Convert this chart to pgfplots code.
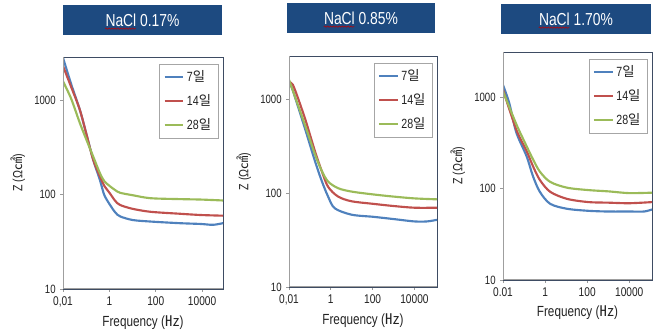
\documentclass[border=0pt]{standalone}
\usepackage{pgfplots}
\pgfplotsset{compat=1.18}
\usepackage{fontspec}
\setmainfont{Liberation Sans}[FakeStretch=0.8]
\newfontfamily\kr{Noto Sans CJK KR}
\usetikzlibrary{decorations.pathmorphing}
\definecolor{tblue}{HTML}{1D4A80}
\definecolor{cblue}{HTML}{4F81BD}
\definecolor{cred}{HTML}{C0504D}
\definecolor{cgreen}{HTML}{9BBB59}
\definecolor{frame}{HTML}{3E4C63}
\definecolor{txt}{HTML}{222222}
\pgfplotsset{
  every axis/.append style={
    scale only axis,
    axis line style={draw=frame, line width=0.6pt},
    xtick={0.01,1,100,10000},
    ytick={10,100,1000},
    yticklabels={10,100,1000},
    minor tick length=0pt,
    major tick length=2pt,
    tick align=outside,
    xtick pos=bottom, ytick pos=left,
    tick style={draw=gray!80, line width=0.5pt},
    xticklabel style={font=\fontsize{9.5}{11}\selectfont, text=txt},
    yticklabel style={font=\fontsize{9}{11}\selectfont, text=txt},
    xlabel style={font=\fontsize{11}{13}\selectfont, text=txt},
    ylabel style={font=\fontsize{10}{12}\selectfont, text=txt},
    legend style={at={(rel axis cs:0.969,0.97)}, anchor=north east, draw=gray!70,
      font=\fontsize{10}{12}\selectfont, row sep=4pt, inner sep=3pt,
      cells={anchor=west}, text=txt},
  },
  legend image code/.code={\draw[#1,line width=1.6pt] (0pt,0pt) -- (14pt,0pt);},
  every axis plot/.append style={line width=1.6pt, smooth, no marks},
}
\begin{document}
\begin{tikzpicture}
\begin{scope}[x=0.75pt,y=0.75pt]
\path (0,0) rectangle (655,332);
% titles
\fill[tblue] (63,327) rectangle (222,297);
\node[text=white, inner sep=0pt, font=\fontsize{13}{15}\selectfont] (t1) at (142.5,312) {NaCl 0.17\%};
\fill[tblue] (287,329) rectangle (435,299);
\node[text=white, inner sep=0pt, font=\fontsize{13}{15}\selectfont] (t2) at (361,314) {NaCl 0.85\%};
\fill[tblue] (501,328) rectangle (651,298);
\node[text=white, inner sep=0pt, font=\fontsize{13}{15}\selectfont] (t3) at (576,313) {NaCl 1.70\%};
\end{scope}
\draw[red!75!black, line width=0.4pt, decorate, decoration={snake, amplitude=0.5pt, segment length=2.2pt}] ([yshift=-1.5pt]t1.south west) -- ++(23pt,0);
\draw[red!75!black, line width=0.4pt, decorate, decoration={snake, amplitude=0.5pt, segment length=2.2pt}] ([yshift=-1.5pt]t2.south west) -- ++(23pt,0);
\draw[red!75!black, line width=0.4pt, decorate, decoration={snake, amplitude=0.5pt, segment length=2.2pt}] ([yshift=-1.5pt]t3.south west) -- ++(23pt,0);
% Panel 1
\begin{axis}[xmode=log, ymode=log, at={(47.25pt,32.25pt)}, anchor=south west, width=120pt, height=174pt,
  xmin=0.01, xmax=80000, ymin=10, ymax=2900, xticklabels={{0,01},1,100,10000},
  xlabel={Frequency ({\kr ㎐})}, ylabel={Z (Ω{\kr ㎠})},
  /pgf/number format/assume math mode=true]
\addplot[cblue] coordinates {(0.01,2850)(0.0224,1500)(0.053,800)(0.1,450)(0.2,236)(0.39,144)(0.6,100)(1.07,78)(1.8,65)(2.9,59)(10,54)(59,52)(1000,50)(8700,49)(30000,48)(80000,50)};
\addplot[cred] coordinates {(0.01,2320)(0.0224,1400)(0.053,800)(0.1,450)(0.2,236)(0.39,157)(0.6,125)(1.07,103)(1.8,86)(2.9,78)(10,71)(59,66)(1000,63)(8700,61)(80000,60)};
\addplot[cgreen] coordinates {(0.01,1600)(0.0224,1050)(0.053,580)(0.1,390)(0.2,255)(0.39,170)(0.6,140)(1.07,123)(1.8,112)(2.9,105)(10,99)(59,92)(1000,90)(8700,89)(80000,87)};
\legend{7{\kr 일},14{\kr 일},28{\kr 일}}
\draw[gray!75, line width=0.8pt] (rel axis cs:0,1) -- (rel axis cs:0,0) -- (rel axis cs:1,0);
\end{axis}
% Panel 2
\begin{axis}[xmode=log, ymode=log, at={(216.75pt,33.75pt)}, anchor=south west, width=111pt, height=173.25pt,
  xmin=0.01, xmax=120000, ymin=10, ymax=2900, xticklabels={{0,01},1,100,10000},
  xlabel={Frequency ({\kr ㎐})}, ylabel={Z (Ω{\kr ㎠})},
  /pgf/number format/assume math mode=true]
\addplot[cblue] coordinates {(0.01,1560)(0.0151,1250)(0.0562,500)(0.17,224)(0.355,138)(0.741,92)(1.55,69)(9.8,59)(107,56)(1000,53)(10000,50)(40000,50)(120000,52)};
\addplot[cred] coordinates {(0.01,1350)(0.0151,1440)(0.0562,640)(0.17,285)(0.355,176)(0.741,117)(2.24,92)(9.8,82)(107,77)(1000,73)(10000,70)(120000,70)};
\addplot[cgreen] coordinates {(0.01,1620)(0.0562,545)(0.17,264)(0.355,176)(0.741,133)(2.24,113)(9.8,104)(107,97)(1000,92)(10000,88)(120000,86)};
\legend{7{\kr 일},14{\kr 일},28{\kr 일}}
\draw[gray!75, line width=0.8pt] (rel axis cs:0,1) -- (rel axis cs:0,0) -- (rel axis cs:1,0);
\end{axis}
% Panel 3
\begin{axis}[xmode=log, ymode=log, at={(377.25pt,39pt)}, anchor=south west, width=111.75pt, height=171pt,
  xmin=0.01, xmax=120000, ymin=10, ymax=3100, xticklabels={0.01,1,100,10000},
  xlabel={Frequency ({\kr ㎐})}, ylabel={Z (Ω{\kr ㎠})},
  /pgf/number format/assume math mode=true]
\addplot[cblue] coordinates {(0.01,1350)(0.02,850)(0.0427,410)(0.132,225)(0.269,135)(0.562,92)(1.74,68)(11,60)(115,57)(1000,56)(10000,56)(50000,56)(120000,59)};
\addplot[cred] coordinates {(0.01,1200)(0.0427,440)(0.132,257)(0.269,174)(0.562,124)(1.74,92)(11,77)(115,71)(1000,70)(10000,69)(120000,71)};
\addplot[cgreen] coordinates {(0.01,1150)(0.0427,505)(0.132,290)(0.269,207)(0.562,153)(1.74,118)(11,102)(115,96)(1000,93)(10000,89)(120000,90)};
\legend{7{\kr 일},14{\kr 일},28{\kr 일}}
\draw[gray!75, line width=0.8pt] (rel axis cs:0,1) -- (rel axis cs:0,0) -- (rel axis cs:1,0);
\end{axis}
\end{tikzpicture}
\end{document}
